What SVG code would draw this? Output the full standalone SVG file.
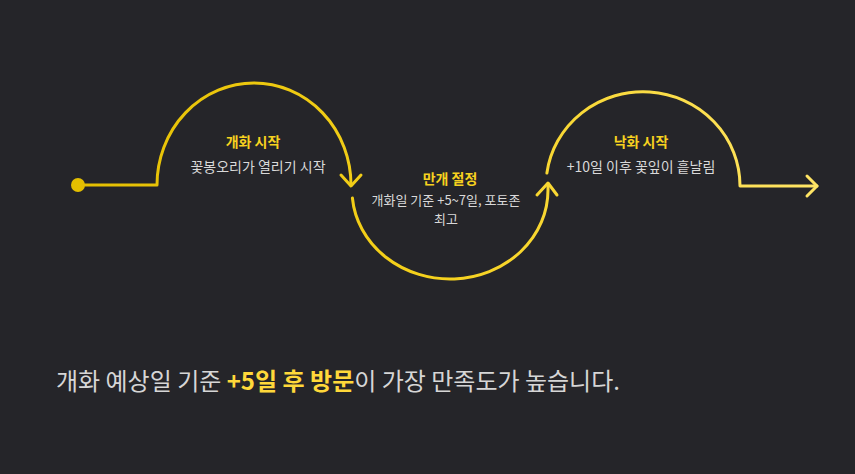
<svg xmlns="http://www.w3.org/2000/svg" width="855" height="474" viewBox="0 0 855 474">
  <defs>
    <linearGradient id="g" gradientUnits="userSpaceOnUse" x1="70" y1="0" x2="820" y2="0">
      <stop offset="0" stop-color="#e4bf00"/>
      <stop offset="0.5" stop-color="#f6d21e"/>
      <stop offset="1" stop-color="#ffe566"/>
    </linearGradient>
    <style>
      .ln { fill: none; stroke: url(#g); stroke-width: 3; stroke-linecap: round; stroke-linejoin: round; }
      .t { font-family: "Noto Sans CJK KR", "Noto Sans", sans-serif; text-anchor: middle; }
      .ttl { font-size: 14px; font-weight: 700; fill: #f7d21f; }
      .sub { font-size: 14px; fill: #d9d9d9; }
      .sub2 { font-size: 13px; fill: #d9d9d9; }
      .foot { font-family: "Noto Sans CJK KR", "Noto Sans", sans-serif; font-size: 24px; fill: #d6d6d6; }
      .hl { fill: #ffd83a; font-weight: 700; }
    </style>
  </defs>
  <rect width="855" height="474" fill="#252529"/>
  <g id="connectors">
    <circle cx="78" cy="185" r="7" fill="#e4bf00"/>
    <path class="ln" d="M78,185 L157,185 A97,102 0 0 1 351,185"/>
    <path class="ln" d="M341,175 L351,186 L361,175"/>
    <path class="ln" d="M352.4,198 A98,89 0 0 0 548,190 L548,184"/>
    <path class="ln" d="M537,195 L548,183 L557,195"/>
    <path class="ln" d="M546.9,173 A97,94 0 0 1 740,186 L817,186"/>
    <path class="ln" d="M807,176 L817,186 L807,196"/>
  </g>
  <g id="node-bloom-start">
    <text class="t ttl" x="253" y="147">개화 시작</text>
    <text class="t sub" x="258" y="172">꽃봉오리가 열리기 시작</text>
  </g>
  <g id="node-full-bloom">
    <text class="t ttl" x="450" y="184">만개 절정</text>
    <text class="t sub2" x="446" y="205">개화일 기준 +5~7일, 포토존</text>
    <text class="t sub2" x="446" y="224">최고</text>
  </g>
  <g id="node-fall-start">
    <text class="t ttl" x="641" y="147">낙화 시작</text>
    <text class="t sub" x="641" y="172">+10일 이후 꽃잎이 흩날림</text>
  </g>
  <g id="footer">
    <text class="foot" x="56" y="390">개화 예상일 기준 <tspan class="hl">+5일 후 방문</tspan>이 가장 만족도가 높습니다.</text>
  </g>
</svg>
